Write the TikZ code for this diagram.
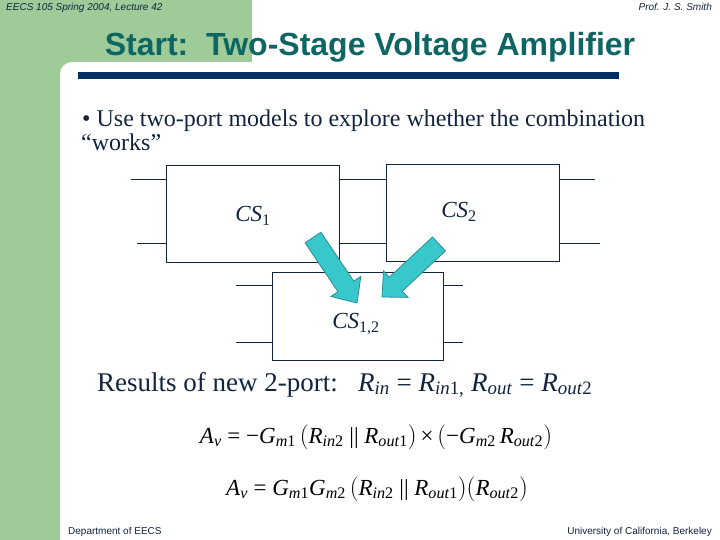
\documentclass[tikz,border=0pt]{standalone}
\usepackage{fontspec}
\setmainfont{Liberation Serif}
\setsansfont{Liberation Sans}
\usepackage{tikz}
\usetikzlibrary{calc}

\definecolor{slidegreen}{RGB}{158,203,152}
\definecolor{titleteal}{RGB}{14,102,100}
\definecolor{barnavy}{RGB}{0,45,100}
\definecolor{inknavy}{RGB}{18,36,62}
\definecolor{arrowcyan}{RGB}{56,200,204}
\definecolor{arrowedge}{RGB}{40,140,150}

\newcommand{\varsub}[2]{\textit{#1}\textsubscript{#2}}
% block arrow from #1 (tail) to #2 (tip)
\newcommand{\fatarrowfrom}[2]{%
  \filldraw[fatarrow] ($(#1)!9.5pt!90:(#2)$) -- ($(#1)!59pt!(#2)!9.5pt!90:(#2)$)
    -- ($(#1)!59pt!(#2)!18pt!90:(#2)$) -- (#2)
    -- ($(#1)!59pt!(#2)!18pt!-90:(#2)$) -- ($(#1)!59pt!(#2)!9.5pt!-90:(#2)$)
    -- ($(#1)!9.5pt!-90:(#2)$) -- cycle;}

\begin{document}
\begin{tikzpicture}[x=1pt, y=-1pt,
    twoport/.style={rectangle, draw=inknavy, line width=0.8pt, inner sep=0pt},
    lead/.style={draw=inknavy, line width=0.8pt},
    fatarrow/.style={fill=arrowcyan, draw=arrowedge, line width=0.8pt, line join=miter},
    header/.style={font=\sffamily\itshape\fontsize{10}{12}\selectfont, text=inknavy, inner sep=0pt},
    footer/.style={font=\sffamily\fontsize{10}{12}\selectfont, text=inknavy, inner sep=0pt},
    cslabel/.style={font=\fontsize{23}{27}\selectfont, text=inknavy, inner sep=0pt},
    eqn/.style={font=\fontsize{23}{27}\selectfont, text=black, inner sep=0pt}
  ]
  \useasboundingbox (0,0) rectangle (720,540);

  % slide frame
  \fill[white] (0,0) rectangle (720,540);
  \fill[slidegreen] (0,0) rectangle (252,62);
  \fill[slidegreen] (0,0) rectangle (60,540);
  \fill[slidegreen] (60,62) rectangle (72,74);
  \fill[white] (72,74) circle (12);
  \fill[barnavy] (78,72) rectangle (619,79);

  \node[header, anchor=base west] (course) at (6,11) {EECS 105 Spring 2004, Lecture 42};
  \node[header, anchor=base east] (prof) at (712,11) {Prof. J. S. Smith};
  \node[anchor=base, inner sep=0pt, text=titleteal, font=\sffamily\bfseries\fontsize{32}{36}\selectfont] (title) at (370,56) {Start:\ \ Two-Stage Voltage Amplifier};

  \node[anchor=base west, inner sep=0pt, text=inknavy, font=\fontsize{24}{28}\selectfont] (bullet) at (82,127) {• Use two-port models to explore whether the combination};
  \node[anchor=base west, inner sep=0pt, text=inknavy, font=\fontsize{24}{28}\selectfont] (works) at (81,151) {“works”};

  % the two stages and the combined two-port
  \node[twoport, minimum width=173pt, minimum height=97pt] (cs1) at (252.5,213.5) {};
  \node[twoport, minimum width=173pt, minimum height=97pt] (cs2) at (472.5,212.5) {};
  \node[twoport, minimum width=171pt, minimum height=88pt] (cs12) at (357.5,316) {};
  \node[cslabel] (cs1lbl) at (253,216) {\textit{CS}\textsubscript{1}};
  \node[cslabel] (cs2lbl) at (459,212) {\textit{CS}\textsubscript{2}};
  \node[cslabel] (cs12lbl) at (356,324) {\textit{CS}\textsubscript{1,2}};

  \coordinate (upper) at (0,179);
  \coordinate (lower) at (0,243);
  \coordinate (upper12) at (0,285);
  \coordinate (lower12) at (0,342);
  \path[lead] (cs1.west |- upper) -- ++(-35,0);
  \path[lead] (cs1.west |- lower) -- ++(-29,0);
  \path[lead] (cs1.east |- upper) -- (cs2.west |- upper);
  \path[lead] (cs1.east |- lower) -- (cs2.west |- lower);
  \path[lead] (cs2.east |- upper) -- ++(36,0);
  \path[lead] (cs2.east |- lower) -- ++(41,0);
  \path[lead] (cs12.west |- upper12) -- ++(-36,0);
  \path[lead] (cs12.west |- lower12) -- ++(-36,0);
  \path[lead] (cs12.east |- upper12) -- ++(20,0);
  \path[lead] (cs12.east |- lower12) -- ++(20,0);

  \coordinate (tail1) at (313,237.5);
  \coordinate (tip1) at (357,303);
  \coordinate (tail2) at (439,244);
  \coordinate (tip2) at (382,297);
  \fatarrowfrom{tail1}{tip1}
  \fatarrowfrom{tail2}{tip2}

  \node[anchor=base west, inner sep=0pt, text=inknavy, font=\fontsize{27}{31}\selectfont] (results) at (97,391)
    {Results of new 2-port:\ \ \ \varsub{R}{\textit{in}} = \varsub{R}{\textit{in}1,} \varsub{R}{\textit{out}} = \varsub{R}{\textit{out}2}};

  \node[eqn] (gain1) at (376,437)
    {\varsub{A}{\textit{v}} = −\varsub{G}{\textit{m}1}\,$\Big($\varsub{R}{\textit{in}2} || \varsub{R}{\textit{out}1}$\Big)$\,×\,$\Big($−\varsub{G}{\textit{m}2}\,\varsub{R}{\textit{out}2}$\Big)$};
  \node[eqn] (gain2) at (377,489)
    {\varsub{A}{\textit{v}} = \varsub{G}{\textit{m}1}\varsub{G}{\textit{m}2}\,$\Big($\varsub{R}{\textit{in}2} || \varsub{R}{\textit{out}1}$\Big)\Big($\varsub{R}{\textit{out}2}$\Big)$};

  \node[footer, anchor=base west] (dept) at (68,534) {Department of EECS};
  \node[footer, anchor=base east] (univ) at (712,534) {University of California, Berkeley};
\end{tikzpicture}
\end{document}
